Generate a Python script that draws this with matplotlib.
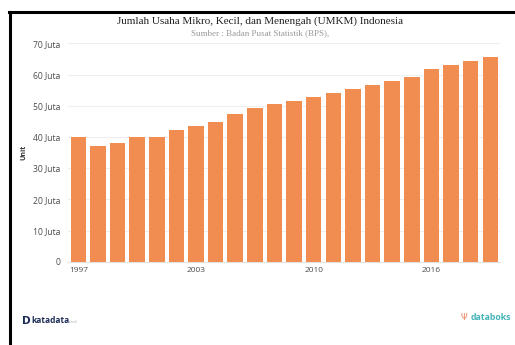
import matplotlib.pyplot as plt
import numpy as np

# data (juta unit)
years = [1997, 1998, 1999, 2000, 2001, 2002, 2003, 2005, 2006, 2007, 2008,
         2009, 2010, 2011, 2012, 2013, 2014, 2015, 2016, 2017, 2018, 2019]
umkm = [39.9, 37.1, 38.1, 39.9, 40.1, 42.1, 43.5, 44.9, 47.2, 49.2, 50.4,
        51.6, 52.9, 54.0, 55.3, 56.6, 58.0, 59.3, 61.8, 63.0, 64.3, 65.5]
y_ticks = [0, 10, 20, 30, 40, 50, 60, 70]
y_labels = ['0'] + [f'{v} Juta' for v in y_ticks[1:]]
x_tick_idx = [0, 6, 12, 18]

BAR_COLOR = '#f28d52'
TEXT_COLOR = '#4d4d4d'

fig = plt.figure(figsize=(5.15, 3.45), dpi=100)
ax = fig.add_axes([0.133, 0.2414, 0.838, 0.6331])

x = np.arange(len(years))
ax.bar(x, umkm, width=0.79, color=BAR_COLOR, zorder=3)

ax.set_xlim(-0.5, len(years) - 0.5)
ax.set_ylim(0, 70)
ax.set_yticks(y_ticks)
ax.set_yticklabels(y_labels, fontsize=6.2, color=TEXT_COLOR, family='Open Sans')
ax.set_xticks(x_tick_idx)
ax.set_xticklabels([str(years[i]) for i in x_tick_idx], fontsize=6,
                   color=TEXT_COLOR, family='Open Sans')
ax.tick_params(axis='y', length=0, pad=6)
ax.tick_params(axis='x', length=0, pad=4)

ax.grid(axis='y', color='#eeeeee', linewidth=0.8, zorder=0)
for side in ['top', 'right', 'left']:
    ax.spines[side].set_visible(False)
ax.spines['bottom'].set_color('#e3e3e3')
ax.spines['bottom'].set_linewidth(0.8)

ax.set_ylabel('Unit', fontsize=5, fontweight='bold', color='#333333',
              family='Open Sans', labelpad=4)

# judul
fig.text(0.505, 0.94, 'Jumlah Usaha Mikro, Kecil, dan Menengah (UMKM) Indonesia',
         ha='center', va='center', fontsize=8, family='Liberation Serif',
         color='#222222')
fig.text(0.505, 0.905, 'Sumber : Badan Pusat Statistik (BPS),',
         ha='center', va='center', fontsize=6.5, family='Liberation Serif',
         color='#999999')

# bingkai hitam kiri dan atas
fig.add_artist(plt.Line2D([0.019, 0.019], [0, 0.966], color='black', lw=2.2))
fig.add_artist(plt.Line2D([0.018, 1.0], [0.965, 0.965], color='black', lw=2.2))

# logo sebagai teks
fig.text(0.043, 0.07, 'D', fontsize=7.5, fontweight='bold', color='#1d2b57',
         family='DejaVu Sans', va='center')
fig.text(0.06, 0.07, 'katadata', fontsize=6, fontweight='bold', color='#1d2b57',
         family='Open Sans', va='center')
fig.text(0.134, 0.066, '.co.id', fontsize=2.5, color='#9aa0b0',
         family='Open Sans', va='center')
fig.text(0.894, 0.081, '\u03a8', fontsize=6, color='#ef7d5a',
         family='DejaVu Sans', va='center')
fig.text(0.914, 0.081, 'databoks', fontsize=6.3, fontweight='bold', color='#45b3b7',
         family='Open Sans', va='center')

fig.savefig('out.png', dpi=100, facecolor='white')
